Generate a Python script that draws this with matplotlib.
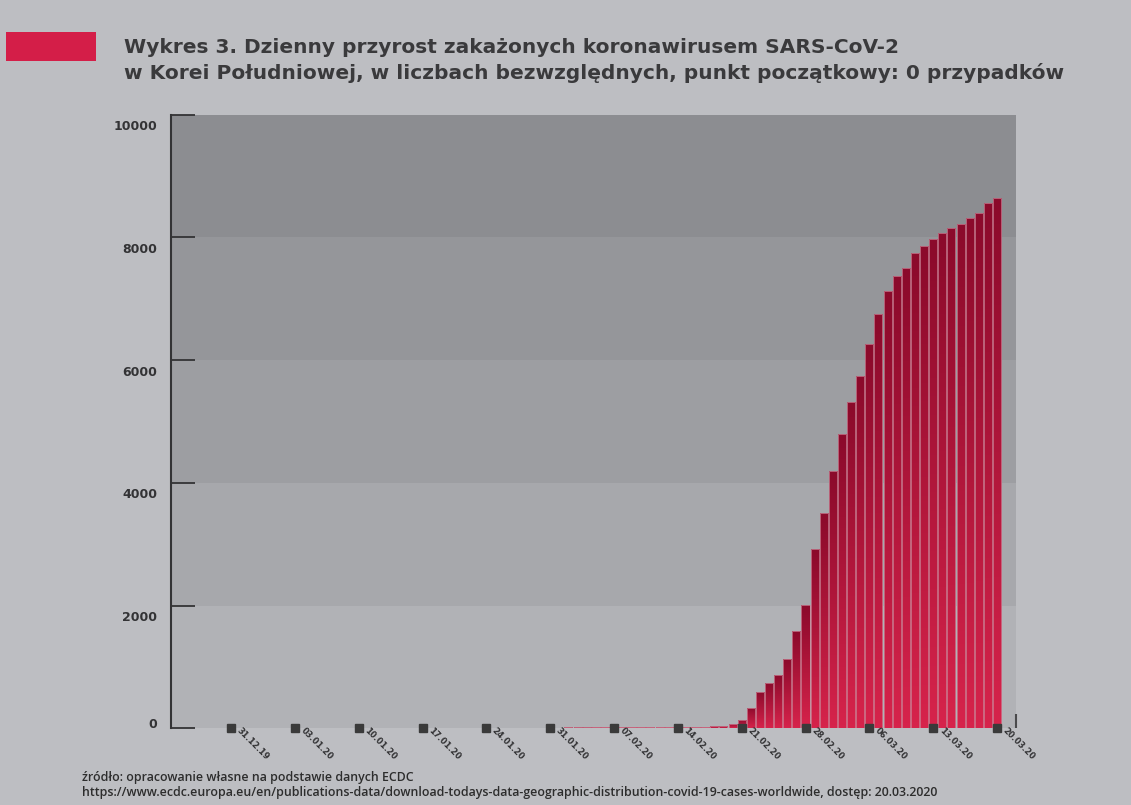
import matplotlib.pyplot as plt
import numpy as np
from matplotlib.colors import LinearSegmentedColormap

# cumulative cases, one bar per day (from reading the chart)
values = [0, 0, 0, 0, 0, 0, 0, 0, 0, 0,
          0, 0, 0, 0, 0, 0, 0, 0, 0, 0,
          0, 0, 0, 0, 0, 1, 1, 1, 2, 2,
          3, 4, 4, 4, 6, 11, 12, 15, 15, 16,
          18, 23, 24, 24, 24, 25, 27, 28, 28, 28,
          28, 28, 29, 30, 31, 70, 140, 326, 587, 744,
          869, 1130, 1581, 2010, 2918, 3515, 4199, 4797, 5314, 5747,
          6269, 6753, 7123, 7367, 7503, 7743, 7857, 7970, 8078, 8150,
          8225, 8313, 8400, 8557, 8639]
date_labels = ['31.12.19', '03.01.20', '10.01.20', '17.01.20', '24.01.20', '31.01.20',
               '07.02.20', '14.02.20', '21.02.20', '28.02.20', '06.03.20', '13.03.20', '20.03.20']
label_step = 7
y_ticks = [0, 2000, 4000, 6000, 8000, 10000]
band_colors = ['#b1b2b6', '#a7a8ac', '#9d9ea2', '#95969a', '#8c8d91']

title = ("Wykres 3. Dzienny przyrost zakażonych koronawirusem SARS-CoV-2\n"
         "w Korei Południowej, w liczbach bezwzględnych, punkt początkowy: 0 przypadków")
source = ("źródło: opracowanie własne na podstawie danych ECDC\n"
          "https://www.ecdc.europa.eu/en/publications-data/download-todays-data-geographic-"
          "distribution-covid-19-cases-worldwide, dostęp: 20.03.2020")

plt.rcParams['font.family'] = ['DejaVu Sans']
bg = '#bdbec2'
dark = '#333335'

fig = plt.figure(figsize=(11.31, 8.05), dpi=100, facecolor=bg)
ax = fig.add_axes([0.1512, 0.0953, 0.7471, 0.7622])
ax.set_facecolor(bg)

x = np.arange(len(values))
xlim = (-6.58, 86.08)

# horizontal bands
for lo, hi, c in zip(y_ticks[:-1], y_ticks[1:], band_colors):
    ax.axhspan(lo, hi, color=c, lw=0, zorder=0)

# bars with a per-bar vertical gradient
cmap = LinearSegmentedColormap.from_list('red', ['#d6234b', '#8b0a2b'])
grad = np.linspace(0, 1, 64).reshape(-1, 1)
bars = ax.bar(x, values, width=0.88, color='none', edgecolor='#c98597', lw=0.5, zorder=3)
for b, v in zip(bars, values):
    if v <= 0:
        continue
    x0 = b.get_x()
    im = ax.imshow(grad, cmap=cmap, origin='lower', aspect='auto',
                   extent=(x0, x0 + b.get_width(), 0, v), zorder=2, interpolation='bilinear')
    im.set_clip_path(b)
ax.set_xlim(*xlim)
ax.set_ylim(0, 10000)

# axes styling
for s in ['top', 'right', 'bottom']:
    ax.spines[s].set_visible(False)
ax.spines['left'].set_color(dark)
ax.spines['left'].set_linewidth(1.5)
ax.set_yticks(y_ticks)
ax.set_yticklabels([])
ax.tick_params(axis='y', direction='in', length=17, width=1.3, color=dark)
ax.set_xticks([])
ax.vlines(xlim[1], 0, 230, color='#4a4a4c', lw=1.5, clip_on=False, zorder=4)

# y labels sit a little below their tick lines (the 0 a little above)
for t in y_ticks:
    dy = 4 if t == 0 else -12
    ax.annotate(str(t), (0, t), xycoords=('axes fraction', 'data'),
                xytext=(-14, dy), textcoords='offset pixels', ha='right', va='center',
                fontsize=9, fontweight='bold', color=dark, annotation_clip=False)

# date markers and labels
tick_pos = x[::label_step]
ax.plot(tick_pos, np.zeros(len(tick_pos)), 's', color='#3a3a3a', ms=6,
        clip_on=False, zorder=5)
for p, lab in zip(tick_pos, date_labels):
    ax.annotate(lab, (p, 0), xytext=(7.5, 1.5), textcoords='offset points',
                rotation=-45, rotation_mode='anchor', ha='left', va='top',
                fontsize=6, fontweight='bold', color=dark, annotation_clip=False)

# title block
fig.patches.append(plt.Rectangle((6 / 1131, 1 - 61 / 805), 90 / 1131, 28.5 / 805,
                                 transform=fig.transFigure, color='#d41e48', lw=0))
fig.text(124 / 1131, 1 - 38 / 805, title, ha='left', va='top', fontsize=14.5,
         fontweight='bold', color='#3a3a3c', linespacing=1.4)
fig.text(82 / 1131, 1 - 771 / 805, source, ha='left', va='top', fontsize=8.9,
         family=['Open Sans'], fontweight='semibold', color='#2d2d2d', linespacing=1.15)

fig.savefig('out.png', dpi=100, facecolor=bg)
